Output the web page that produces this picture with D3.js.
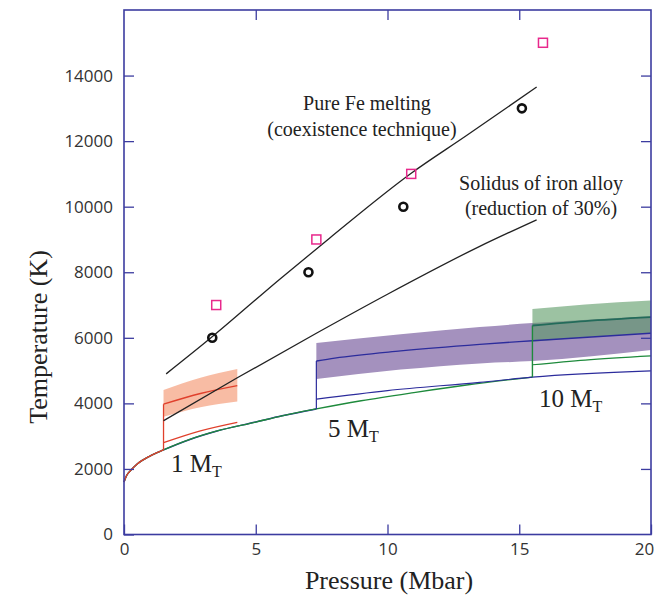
<!DOCTYPE html>
<html>
<head>
<meta charset="utf-8">
<script src="https://cdn.jsdelivr.net/npm/d3@7"></script>
<style>
  body { margin: 0; background: #fff; }
  .ticks text { font-family: "Open Sans", sans-serif; font-size: 17px; fill: #333; }
  .ticks line { stroke: #3c3ca0; stroke-width: 1.3; }
  .ticks .domain { display: none; }
  .serif { font-family: "Liberation Serif", "Times New Roman", serif; fill: #222; }
</style>
</head>
<body>
<svg id="chart" width="657" height="597"></svg>
<script>
// Data (pressure in Mbar, temperature in K)
const pressureTicks = [0, 5, 10, 15, 20];
const temperatureTicks = [0, 2000, 4000, 6000, 8000, 10000, 12000, 14000];

// pure Fe melting (coexistence) and alloy solidus lines
const feMelting = [[1.6, 4900], [3.3, 6000], [5.9, 7780], [7.8, 9040], [10.9, 11020], [13.0, 12170], [15.66, 13650]];
const solidus = [[1.5, 3470], [4.3, 4780], [7.3, 6140], [10, 7330], [13.5, 8790], [15.66, 9600]];

// simulation points
const circlePoints = [[3.35, 6000], [7.0, 8000], [10.6, 10000], [15.1, 13000]];
const squarePoints = [[3.5, 7000], [7.3, 9000], [10.9, 11000], [15.9, 15000]];

// shared low-temperature profile
const baseCurve = [[0, 1600], [0.1, 1800], [0.25, 1950], [0.5, 2150], [1.0, 2400], [1.5, 2580], [2.5, 2900],
  [3.5, 3150], [5.0, 3430], [6.0, 3620], [7.3, 3830], [9, 4080], [11, 4330], [13, 4560], [15.5, 4800]];

// 1 M_T (red)
const redBase = baseCurve.filter(d => d[0] <= 1.5);
const redJump = [[1.5, 2580], [1.5, 3975]];
const redLow = [[1.5, 2800], [2.9, 3160], [4.3, 3420]];
const redMid = [[1.5, 3975], [2.9, 4300], [4.3, 4540]];
const redBand = [[1.5, 3590, 4410], [2.9, 3880, 4780], [4.3, 4055, 5045]];

// 5 M_T (blue)
const blueBase = baseCurve.filter(d => d[0] <= 7.3);
const blueJump = [[7.3, 3830], [7.3, 5290]];
const blueLow = [[7.3, 4130], [10, 4390], [13.5, 4640], [15.5, 4800], [20, 4990]];
const blueMid = [[7.3, 5290], [8, 5380], [10.5, 5600], [13.5, 5800], [15.5, 5910], [20, 6140]];
const blueBand = [[7.3, 4740, 5840], [10.5, 5030, 6110], [13.5, 5220, 6330], [15.5, 5290, 6450], [20, 5630, 6660]];

// 10 M_T (green)
const greenBase = baseCurve;
const greenJump = [[15.5, 4800], [15.5, 6376]];
const greenLow = [[15.5, 5176], [17.5, 5320], [20, 5450]];
const greenMid = [[15.5, 6376], [17.5, 6510], [20, 6630]];
const greenBand = [[15.5, 5880, 6880], [17.5, 6020, 7020], [20, 6140, 7135]];

const svg = d3.select("#chart");
const x = d3.scaleLinear().domain([0, 20]).range([124, 651]);
const y = d3.scaleLinear().domain([0, 16000]).range([534.5, 10]);

const line = d3.line().x(d => x(d[0])).y(d => y(d[1])).curve(d3.curveMonotoneX);
const straight = d3.line().x(d => x(d[0])).y(d => y(d[1]));
const area = d3.area().x(d => x(d[0])).y0(d => y(d[1])).y1(d => y(d[2])).curve(d3.curveMonotoneX);

const plot = svg.append("g");

// uncertainty bands
plot.append("path").attr("d", area(redBand)).attr("fill", "#f7b59a").attr("opacity", 0.9);
plot.append("path").attr("d", area(blueBand)).attr("fill", "#a491be");
plot.append("path").attr("d", area(greenBand)).attr("fill", "#5a9a64").attr("opacity", 0.6);

// temperature profiles
const drawLine = (data, color, width, gen) =>
  plot.append("path").attr("d", (gen || line)(data)).attr("fill", "none")
    .attr("stroke", color).attr("stroke-width", width);

drawLine(blueBase, "#2c2c9c", 1.5);
drawLine(greenBase, "#1e8a3c", 1.3);
drawLine(redBase, "#e0402c", 1.3);

drawLine(redJump, "#e0402c", 1.3, straight);
drawLine(redLow, "#e0402c", 1.3);
drawLine(redMid, "#e0402c", 1.4);

drawLine(blueJump, "#2c2c9c", 1.2, straight);
drawLine(blueLow, "#2c2c9c", 1.1);
drawLine(blueMid, "#2c2c9c", 1.4);

drawLine(greenJump, "#1e8a3c", 1.4, straight);
drawLine(greenLow, "#1e8a3c", 1.1);
drawLine(greenMid, "#236b5a", 1.8);

// melting lines
drawLine(feMelting, "#222", 1.3);
drawLine(solidus, "#222", 1.3);

// markers
plot.selectAll(".pt").data(circlePoints).join("circle")
  .attr("cx", d => x(d[0])).attr("cy", d => y(d[1])).attr("r", 4)
  .attr("fill", "none").attr("stroke", "#111").attr("stroke-width", 2.6);

plot.selectAll(".sq").data(squarePoints).join("rect")
  .attr("x", d => x(d[0]) - 4.5).attr("y", d => y(d[1]) - 4.5)
  .attr("width", 9).attr("height", 9)
  .attr("fill", "none").attr("stroke", "#e8288c").attr("stroke-width", 1.5);

// axes with inward ticks
const xAxisG = svg.append("g").attr("class", "ticks").attr("transform", `translate(0,${y(0)})`)
  .call(d3.axisBottom(x).tickValues(pressureTicks).tickSize(-10).tickPadding(8).tickFormat(d3.format("d")));
xAxisG.selectAll("text").filter(d => d === 20).attr("dx", -7);
svg.append("g").attr("class", "ticks").attr("transform", `translate(0,${y(16000)})`)
  .call(d3.axisTop(x).tickValues(pressureTicks.slice(1, -1)).tickSize(-10).tickFormat(""));
svg.append("g").attr("class", "ticks").attr("transform", `translate(${x(0)},0)`)
  .call(d3.axisLeft(y).tickValues(temperatureTicks).tickSize(-10).tickPadding(11).tickFormat(d3.format("d")));
svg.append("g").attr("class", "ticks").attr("transform", `translate(${x(20)},0)`)
  .call(d3.axisRight(y).tickValues(temperatureTicks.slice(1)).tickSize(-10).tickFormat(""));

svg.append("rect").attr("x", x(0)).attr("y", y(16000))
  .attr("width", x(20) - x(0)).attr("height", y(0) - y(16000))
  .attr("fill", "none").attr("stroke", "#3c3ca0").attr("stroke-width", 1.6);

// axis titles
svg.append("text").attr("class", "serif").attr("font-size", 26)
  .attr("text-anchor", "middle").attr("x", 389).attr("y", 589).text("Pressure (Mbar)");
svg.append("text").attr("class", "serif").attr("font-size", 26)
  .attr("text-anchor", "middle").attr("transform", "translate(47,337) rotate(-90)").text("Temperature (K)");

// annotations
const note = (tx, ty, str) => svg.append("text").attr("class", "serif")
  .attr("font-size", 20).attr("text-anchor", "middle").attr("x", tx).attr("y", ty).text(str);
note(367, 110, "Pure Fe melting");
note(362, 136, "(coexistence technique)");
note(541, 190, "Solidus of iron alloy");
note(541, 215, "(reduction of 30%)");

const massLabel = (tx, ty, num) => {
  const t = svg.append("text").attr("class", "serif").attr("font-size", 25).attr("x", tx).attr("y", ty);
  t.append("tspan").text(num + " M");
  t.append("tspan").attr("font-size", 16).attr("dy", 5).text("T");
};
massLabel(171, 472, "1");
massLabel(328, 437, "5");
massLabel(539, 407, "10");
</script>
</body>
</html>
